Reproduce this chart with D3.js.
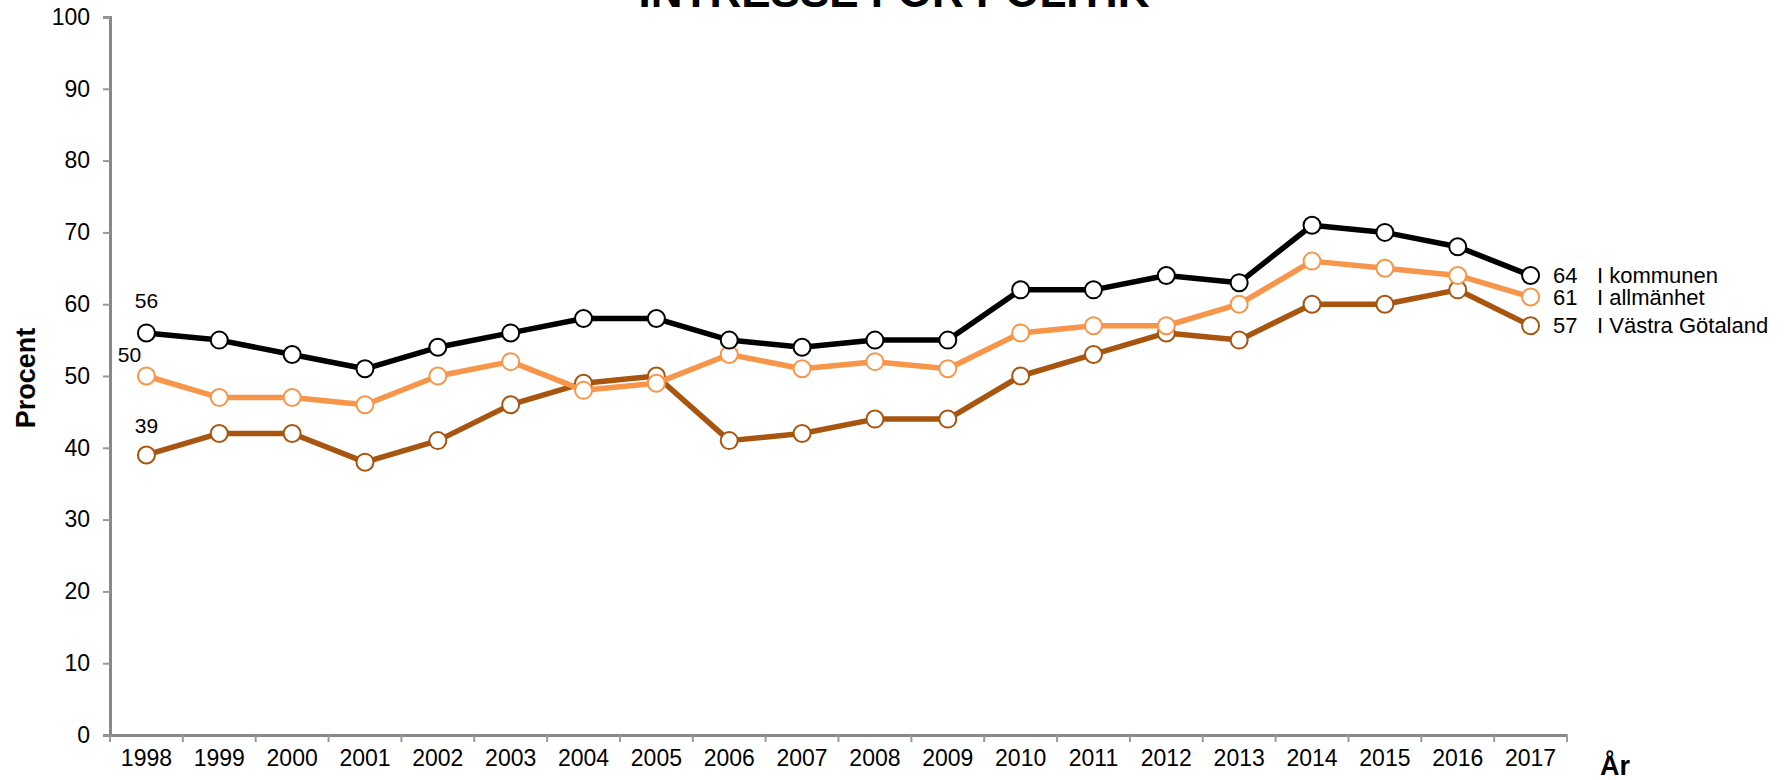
<!DOCTYPE html>
<html>
<head>
<meta charset="utf-8">
<script src="https://cdn.jsdelivr.net/npm/d3@7"></script>
<style>
  body { margin: 0; background: #fff; }
  svg { display: block; font-family: Arial, "Liberation Sans", sans-serif; }
</style>
</head>
<body>
<svg></svg>
<script>
var years = ["1998", "1999", "2000", "2001", "2002", "2003", "2004", "2005", "2006", "2007",
  "2008", "2009", "2010", "2011", "2012", "2013", "2014", "2015", "2016", "2017"];

var kommunen = [56, 55, 53, 51, 54, 56, 58, 58, 55, 54, 55, 55, 62, 62, 64, 63, 71, 70, 68, 64];
var allmanhet = [50, 47, 47, 46, 50, 52, 48, 49, 53, 51, 52, 51, 56, 57, 57, 60, 66, 65, 64, 61];
var vastra = [39, 42, 42, 38, 41, 46, 49, 50, 41, 42, 44, 44, 50, 53, 56, 55, 60, 60, 62, 57];

var yTicks = [0, 10, 20, 30, 40, 50, 60, 70, 80, 90, 100];

var series = [
  { name: "I Västra Götaland", values: vastra, color: "#A8550F", startDx: 0, startDy: -22 },
  { name: "I allmänhet", values: allmanhet, color: "#F7964A", startDx: -17, startDy: -14 },
  { name: "I kommunen", values: kommunen, color: "#000000", startDx: 0, startDy: -25 }
];

const width = 1786, height = 780;
const margin = { top: 17, right: 219, bottom: 45, left: 110 };

const svg = d3.select("svg")
  .attr("width", width)
  .attr("height", height);

const x = d3.scaleBand()
  .domain(years)
  .range([margin.left, width - margin.right]);

const y = d3.scaleLinear()
  .domain([0, 100])
  .range([height - margin.bottom, margin.top]);

// title, mostly cut off at the top like the reference
svg.append("text")
  .attr("x", 894)
  .attr("y", 7)
  .attr("text-anchor", "middle")
  .style("font-size", "44px")
  .style("font-weight", "bold")
  .text("INTRESSE FÖR POLITIK");

// y axis
const yAxis = svg.append("g")
  .attr("transform", "translate(" + margin.left + ",0)")
  .call(d3.axisLeft(y).tickValues(yTicks).tickSize(7).tickPadding(13));
yAxis.select(".domain").attr("stroke", "#888").attr("stroke-width", 3);
yAxis.selectAll(".tick line").attr("stroke", "#999").attr("stroke-width", 2);
yAxis.selectAll(".tick text")
  .attr("fill", "#000")
  .style("font-size", "23px")
  .style("font-family", "Arial, 'Liberation Sans', sans-serif");

// x axis
const xAxis = svg.append("g")
  .attr("transform", "translate(0," + y(0) + ")")
  .call(d3.axisBottom(x).tickSize(0).tickPadding(15).tickSizeOuter(0));
xAxis.select(".domain").attr("stroke", "#888").attr("stroke-width", 3);
xAxis.selectAll(".tick text")
  .attr("fill", "#000")
  .style("font-size", "23px")
  .style("font-family", "Arial, 'Liberation Sans', sans-serif");

// tick marks between the years
var bounds = years.map(function (d) { return x(d); }).concat([x.range()[1]]);
xAxis.selectAll("line.bound")
  .data(bounds)
  .enter().append("line")
  .attr("class", "bound")
  .attr("x1", function (d) { return d; })
  .attr("x2", function (d) { return d; })
  .attr("y1", 0)
  .attr("y2", 7)
  .attr("stroke", "#999")
  .attr("stroke-width", 2);

// axis titles
svg.append("text")
  .attr("transform", "translate(35,378) rotate(-90)")
  .attr("text-anchor", "middle")
  .style("font-size", "27px")
  .style("font-weight", "bold")
  .text("Procent");

svg.append("text")
  .attr("x", 1600)
  .attr("y", 775)
  .style("font-size", "27px")
  .style("font-weight", "bold")
  .text("År");

const line = d3.line()
  .x(function (d, i) { return x(years[i]) + x.bandwidth() / 2; })
  .y(function (d) { return y(d); });

series.forEach(function (s) {
  const g = svg.append("g");

  g.append("path")
    .datum(s.values)
    .attr("fill", "none")
    .attr("stroke", s.color)
    .attr("stroke-width", 5.5)
    .attr("stroke-linejoin", "round")
    .attr("d", line);

  g.selectAll("circle")
    .data(s.values)
    .enter().append("circle")
    .attr("cx", function (d, i) { return x(years[i]) + x.bandwidth() / 2; })
    .attr("cy", function (d) { return y(d); })
    .attr("r", 8.5)
    .attr("fill", "#fff")
    .attr("stroke", s.color)
    .attr("stroke-width", 2);

  // first value above first point
  g.append("text")
    .attr("x", x(years[0]) + x.bandwidth() / 2 + s.startDx)
    .attr("y", y(s.values[0]) + s.startDy)
    .attr("text-anchor", "middle")
    .style("font-size", "21px")
    .text(s.values[0]);

  // last value and name at the right end
  var last = s.values[s.values.length - 1];
  g.append("text")
    .attr("x", 1553)
    .attr("y", y(last))
    .attr("dy", "0.35em")
    .style("font-size", "22px")
    .text(last);
  g.append("text")
    .attr("x", 1597)
    .attr("y", y(last))
    .attr("dy", "0.35em")
    .style("font-size", "22px")
    .text(s.name);
});
</script>
</body>
</html>
